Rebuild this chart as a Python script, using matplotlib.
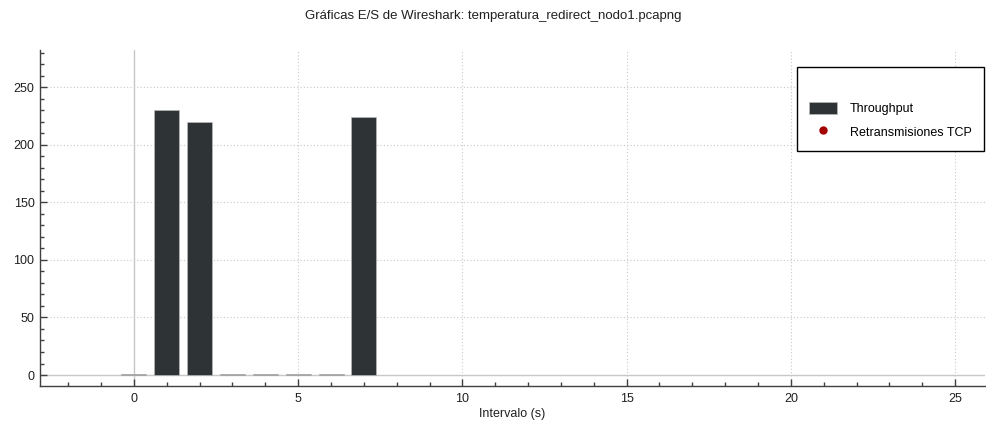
import matplotlib
matplotlib.use("Agg")
import matplotlib.pyplot as plt
from matplotlib.patches import Patch
from matplotlib.lines import Line2D
from matplotlib.ticker import MultipleLocator

# Throughput per 1 s interval
intervals = [0, 1, 2, 3, 4, 5, 6, 7]
throughput = [1.3, 230, 220, 1.3, 1.3, 1.3, 1.3, 224]
# TCP retransmissions (none in this capture)
retrans_x = []
retrans_y = []

title = "Gráficas E/S de Wireshark: temperatura_redirect_nodo1.pcapng"
xlabel = "Intervalo (s)"

plt.rcParams["font.family"] = ["Liberation Sans", "DejaVu Sans"]

fig = plt.figure(figsize=(9.86, 4.25), dpi=100)
ax = fig.add_axes([0.0406, 0.0918, 0.958, 0.790])

bar_color = "#2e3436"
ax.bar(intervals, throughput, width=0.76, color=bar_color,
       edgecolor="#b8b8b8", linewidth=0.5, zorder=3)
ax.scatter(retrans_x, retrans_y, color="#a40000", s=20, zorder=4)

ax.set_xlim(-2.86, 25.9)
ax.set_ylim(-9.5, 282)

ax.axhline(0, color="#c8c8c8", linewidth=1.0, zorder=1)
ax.axvline(0, color="#c8c8c8", linewidth=1.0, zorder=1)

ax.xaxis.set_major_locator(MultipleLocator(5))
ax.xaxis.set_minor_locator(MultipleLocator(1))
ax.yaxis.set_major_locator(MultipleLocator(50))
ax.yaxis.set_minor_locator(MultipleLocator(10))

ax.grid(True, which="major", linestyle=(0, (1, 2)), color="#c8c8c8",
        linewidth=0.8, zorder=0)

for s in ("top", "right"):
    ax.spines[s].set_visible(False)
for s in ("left", "bottom"):
    ax.spines[s].set_color("#404040")
    ax.spines[s].set_linewidth(1.0)

ax.tick_params(axis="both", which="major", direction="in", length=5,
               width=1, color="#404040", labelsize=9, labelcolor="#202020")
ax.tick_params(axis="both", which="minor", direction="in", length=3,
               width=1, color="#404040")
ax.tick_params(axis="x", pad=5)
ax.tick_params(axis="y", pad=4)

ax.set_xlabel(xlabel, fontsize=9, color="#202020", labelpad=2)
fig.text(0.5, 0.962, title, ha="center", va="center", fontsize=9.5,
         color="#202020")

handles = [
    Patch(facecolor=bar_color, edgecolor="#b8b8b8", linewidth=0.5),
    Line2D([], [], marker="o", linestyle="none", color="#a40000",
           markersize=5),
]
leg = ax.legend(handles, ["Throughput", "Retransmisiones TCP"],
                title=" ", title_fontsize=9,
                loc="upper right", bbox_to_anchor=(0.9995, 0.95),
                fontsize=9, frameon=True, fancybox=False,
                borderpad=1.0, handlelength=2.24, handleheight=1.2,
                handletextpad=1.0, labelspacing=0.8, borderaxespad=0.0)
frame = leg.get_frame()
frame.set_edgecolor("#000000")
frame.set_linewidth(1.0)
frame.set_alpha(1.0)

fig.savefig("out.png", dpi=100)
